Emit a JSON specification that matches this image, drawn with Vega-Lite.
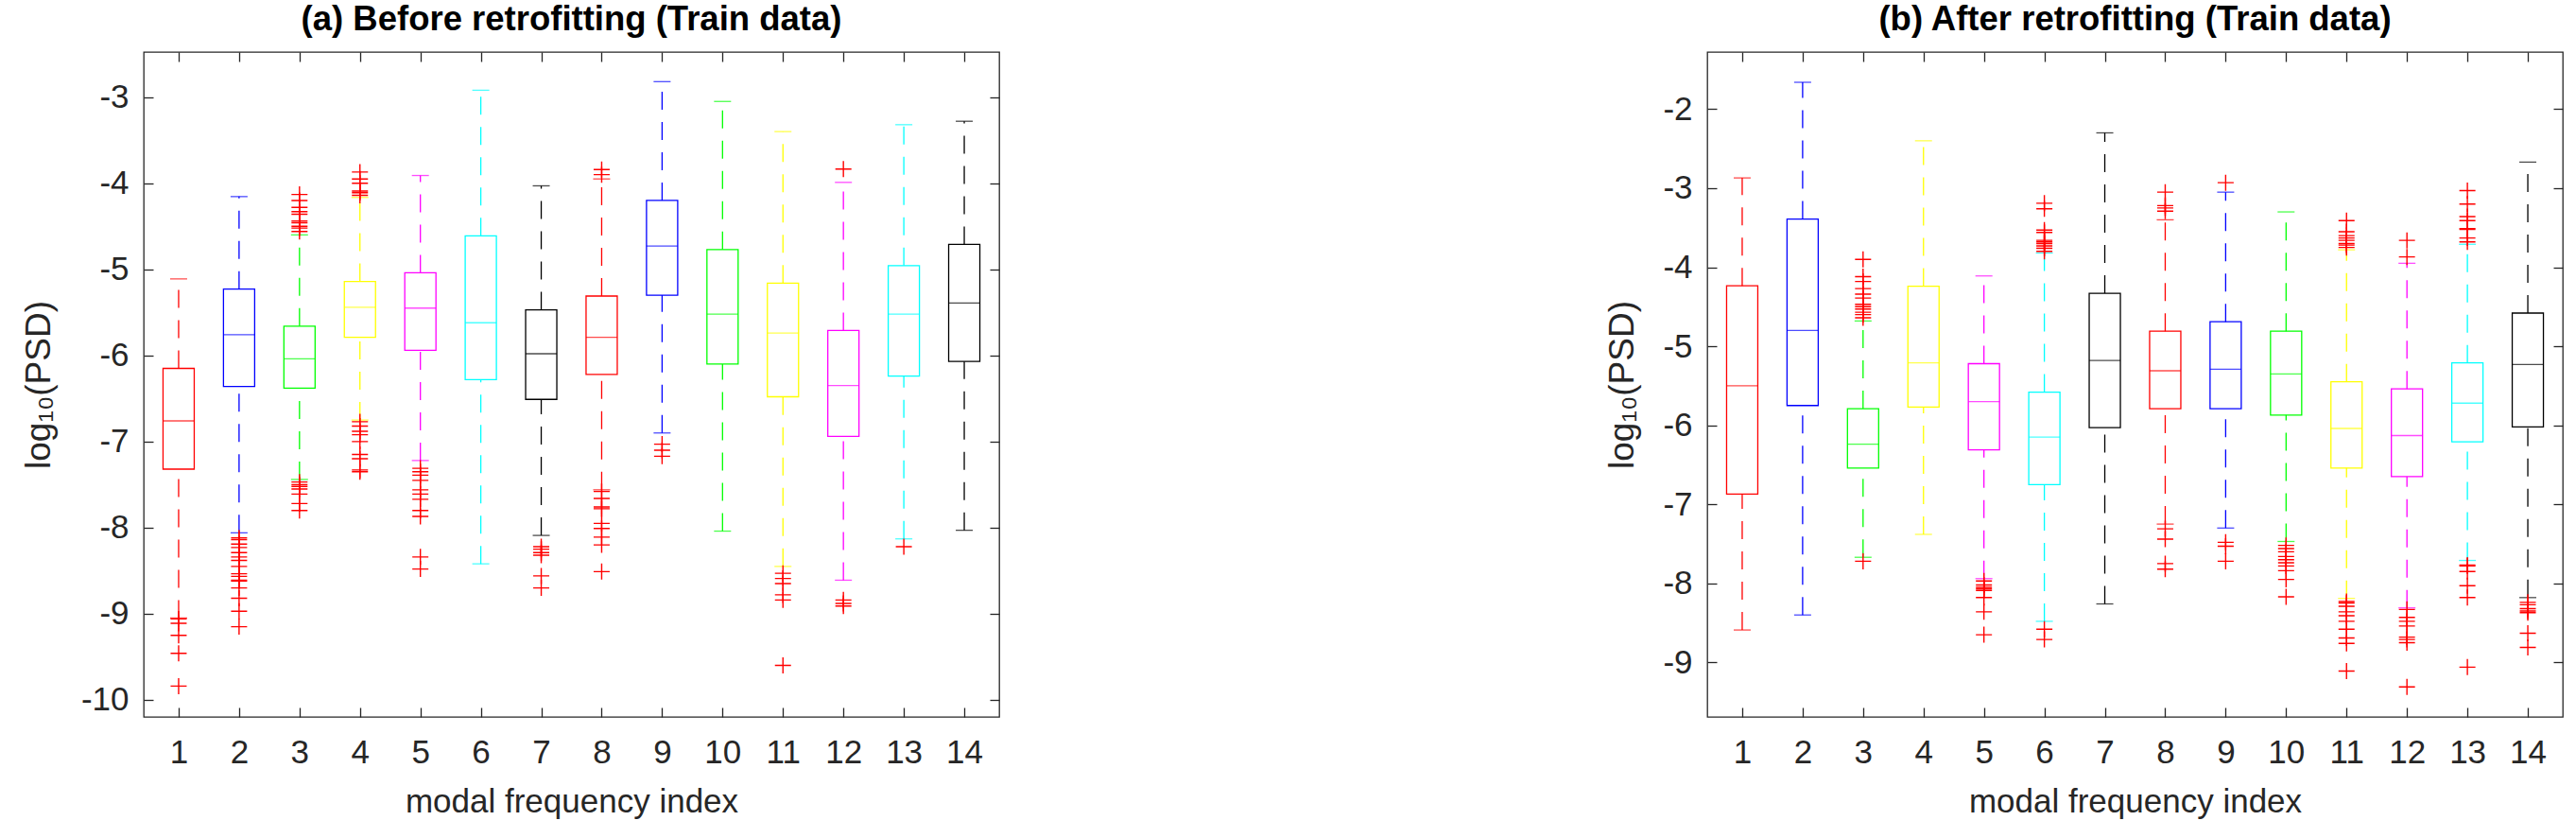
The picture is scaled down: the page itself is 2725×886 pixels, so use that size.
{
  "$schema": "https://vega.github.io/schema/vega-lite/v6.json",
  "background": "white",
  "padding": {"left": 21, "top": 2, "right": 0, "bottom": 0},
  "bounds": "flush",
  "spacing": 749,
  "config": {
    "view": {"stroke": "#262626", "strokeWidth": 1.3},
    "axis": {"labelFont": "Liberation Sans", "labelFontSize": 35, "labelColor": "#262626", "tickColor": "#262626", "tickWidth": 1.3, "domain": false, "grid": false, "titleFont": "Liberation Sans", "titleFontSize": 35, "titleFontWeight": "normal", "titleColor": "#262626"},
    "title": {"font": "Liberation Sans", "fontSize": 36.5, "fontWeight": "bold", "color": "#000000", "frame": "group", "baseline": "alphabetic", "offset": 15, "anchor": "middle"}
  },
  "datasets": {
    "boxA": [
      {"i": 1, "lo": -9.05, "q1": -7.32, "med": -6.76, "q3": -6.15, "hi": -5.11},
      {"i": 2, "lo": -8.06, "q1": -6.36, "med": -5.76, "q3": -5.23, "hi": -4.155},
      {"i": 3, "lo": -7.44, "q1": -6.38, "med": -6.04, "q3": -5.66, "hi": -4.6},
      {"i": 4, "lo": -6.75, "q1": -5.79, "med": -5.44, "q3": -5.14, "hi": -4.165},
      {"i": 5, "lo": -7.22, "q1": -5.94, "med": -5.45, "q3": -5.04, "hi": -3.91},
      {"i": 6, "lo": -8.42, "q1": -6.28, "med": -5.62, "q3": -4.61, "hi": -2.92},
      {"i": 7, "lo": -8.09, "q1": -6.51, "med": -5.98, "q3": -5.47, "hi": -4.03},
      {"i": 8, "lo": -7.56, "q1": -6.22, "med": -5.79, "q3": -5.31, "hi": -3.95},
      {"i": 9, "lo": -6.9, "q1": -5.3, "med": -4.73, "q3": -4.2, "hi": -2.82},
      {"i": 10, "lo": -8.04, "q1": -6.1, "med": -5.52, "q3": -4.77, "hi": -3.05},
      {"i": 11, "lo": -8.45, "q1": -6.48, "med": -5.74, "q3": -5.16, "hi": -3.4},
      {"i": 12, "lo": -8.61, "q1": -6.94, "med": -6.35, "q3": -5.71, "hi": -3.99},
      {"i": 13, "lo": -8.13, "q1": -6.24, "med": -5.52, "q3": -4.956, "hi": -3.32},
      {"i": 14, "lo": -8.03, "q1": -6.07, "med": -5.39, "q3": -4.71, "hi": -3.28}
    ],
    "outA": [
      {"i": 1, "v": -9.06}, {"i": 1, "v": -9.11}, {"i": 1, "v": -9.25}, {"i": 1, "v": -9.46}, {"i": 1, "v": -9.84},
      {"i": 2, "v": -8.12}, {"i": 2, "v": -8.14}, {"i": 2, "v": -8.19}, {"i": 2, "v": -8.23}, {"i": 2, "v": -8.29}, {"i": 2, "v": -8.34}, {"i": 2, "v": -8.38}, {"i": 2, "v": -8.45}, {"i": 2, "v": -8.535}, {"i": 2, "v": -8.565}, {"i": 2, "v": -8.61}, {"i": 2, "v": -8.62}, {"i": 2, "v": -8.7}, {"i": 2, "v": -8.82}, {"i": 2, "v": -8.97}, {"i": 2, "v": -9.15},
      {"i": 3, "v": -4.13}, {"i": 3, "v": -4.2}, {"i": 3, "v": -4.28}, {"i": 3, "v": -4.33}, {"i": 3, "v": -4.36}, {"i": 3, "v": -4.44}, {"i": 3, "v": -4.46}, {"i": 3, "v": -4.5}, {"i": 3, "v": -4.52}, {"i": 3, "v": -4.56},
      {"i": 3, "v": -7.47}, {"i": 3, "v": -7.5}, {"i": 3, "v": -7.52}, {"i": 3, "v": -7.55}, {"i": 3, "v": -7.61}, {"i": 3, "v": -7.72}, {"i": 3, "v": -7.8},
      {"i": 4, "v": -3.87}, {"i": 4, "v": -3.95}, {"i": 4, "v": -4.0}, {"i": 4, "v": -4.09}, {"i": 4, "v": -4.11}, {"i": 4, "v": -4.14},
      {"i": 4, "v": -6.77}, {"i": 4, "v": -6.82}, {"i": 4, "v": -6.88}, {"i": 4, "v": -6.92}, {"i": 4, "v": -7.0}, {"i": 4, "v": -7.15}, {"i": 4, "v": -7.2}, {"i": 4, "v": -7.33}, {"i": 4, "v": -7.35},
      {"i": 5, "v": -7.31}, {"i": 5, "v": -7.35}, {"i": 5, "v": -7.39}, {"i": 5, "v": -7.45}, {"i": 5, "v": -7.56}, {"i": 5, "v": -7.61}, {"i": 5, "v": -7.67}, {"i": 5, "v": -7.8}, {"i": 5, "v": -7.87}, {"i": 5, "v": -8.34}, {"i": 5, "v": -8.48},
      {"i": 7, "v": -8.22}, {"i": 7, "v": -8.25}, {"i": 7, "v": -8.29}, {"i": 7, "v": -8.32}, {"i": 7, "v": -8.56}, {"i": 7, "v": -8.7},
      {"i": 8, "v": -3.84}, {"i": 8, "v": -3.9},
      {"i": 8, "v": -7.58}, {"i": 8, "v": -7.66}, {"i": 8, "v": -7.76}, {"i": 8, "v": -7.78}, {"i": 8, "v": -7.95}, {"i": 8, "v": -8.01}, {"i": 8, "v": -8.11}, {"i": 8, "v": -8.2}, {"i": 8, "v": -8.51},
      {"i": 9, "v": -7.03}, {"i": 9, "v": -7.1}, {"i": 9, "v": -7.17},
      {"i": 11, "v": -8.53}, {"i": 11, "v": -8.59}, {"i": 11, "v": -8.65}, {"i": 11, "v": -8.78}, {"i": 11, "v": -8.84}, {"i": 11, "v": -9.6},
      {"i": 12, "v": -3.835}, {"i": 12, "v": -8.84}, {"i": 12, "v": -8.88}, {"i": 12, "v": -8.91},
      {"i": 13, "v": -8.22}
    ],
    "boxB": [
      {"i": 1, "lo": -8.59, "q1": -6.87, "med": -5.5, "q3": -4.235, "hi": -2.87},
      {"i": 2, "lo": -8.4, "q1": -5.75, "med": -4.8, "q3": -3.39, "hi": -1.66},
      {"i": 3, "lo": -7.67, "q1": -6.54, "med": -6.24, "q3": -5.79, "hi": -4.68},
      {"i": 4, "lo": -7.38, "q1": -5.77, "med": -5.21, "q3": -4.24, "hi": -2.4},
      {"i": 5, "lo": -7.94, "q1": -6.31, "med": -5.7, "q3": -5.22, "hi": -4.11},
      {"i": 6, "lo": -8.48, "q1": -6.75, "med": -6.15, "q3": -5.58, "hi": -3.82},
      {"i": 7, "lo": -8.26, "q1": -6.03, "med": -5.18, "q3": -4.33, "hi": -2.3},
      {"i": 8, "lo": -7.25, "q1": -5.79, "med": -5.31, "q3": -4.81, "hi": -3.4},
      {"i": 9, "lo": -7.3, "q1": -5.79, "med": -5.29, "q3": -4.69, "hi": -3.05},
      {"i": 10, "lo": -7.47, "q1": -5.87, "med": -5.35, "q3": -4.81, "hi": -3.3},
      {"i": 11, "lo": -8.19, "q1": -6.54, "med": -6.04, "q3": -5.45, "hi": -3.78},
      {"i": 12, "lo": -8.31, "q1": -6.65, "med": -6.13, "q3": -5.54, "hi": -3.95},
      {"i": 13, "lo": -7.71, "q1": -6.21, "med": -5.72, "q3": -5.21, "hi": -3.71},
      {"i": 14, "lo": -8.18, "q1": -6.02, "med": -5.23, "q3": -4.58, "hi": -2.67}
    ],
    "outB": [
      {"i": 3, "v": -3.9}, {"i": 3, "v": -4.12}, {"i": 3, "v": -4.18}, {"i": 3, "v": -4.27}, {"i": 3, "v": -4.34}, {"i": 3, "v": -4.39}, {"i": 3, "v": -4.47}, {"i": 3, "v": -4.5}, {"i": 3, "v": -4.53}, {"i": 3, "v": -4.57}, {"i": 3, "v": -4.6}, {"i": 3, "v": -4.64}, {"i": 3, "v": -7.72},
      {"i": 5, "v": -7.97}, {"i": 5, "v": -8.02}, {"i": 5, "v": -8.05}, {"i": 5, "v": -8.07}, {"i": 5, "v": -8.09}, {"i": 5, "v": -8.18}, {"i": 5, "v": -8.36}, {"i": 5, "v": -8.65},
      {"i": 6, "v": -3.19}, {"i": 6, "v": -3.26}, {"i": 6, "v": -3.53}, {"i": 6, "v": -3.56}, {"i": 6, "v": -3.66}, {"i": 6, "v": -3.68}, {"i": 6, "v": -3.7}, {"i": 6, "v": -3.73}, {"i": 6, "v": -3.76}, {"i": 6, "v": -3.8}, {"i": 6, "v": -8.58}, {"i": 6, "v": -8.71},
      {"i": 8, "v": -3.05}, {"i": 8, "v": -3.22}, {"i": 8, "v": -3.25}, {"i": 8, "v": -3.29}, {"i": 8, "v": -7.31}, {"i": 8, "v": -7.44}, {"i": 8, "v": -7.75}, {"i": 8, "v": -7.82},
      {"i": 9, "v": -2.93}, {"i": 9, "v": -7.48}, {"i": 9, "v": -7.53}, {"i": 9, "v": -7.72},
      {"i": 10, "v": -7.52}, {"i": 10, "v": -7.56}, {"i": 10, "v": -7.6}, {"i": 10, "v": -7.66}, {"i": 10, "v": -7.7}, {"i": 10, "v": -7.74}, {"i": 10, "v": -7.78}, {"i": 10, "v": -7.84}, {"i": 10, "v": -7.95}, {"i": 10, "v": -8.17},
      {"i": 11, "v": -3.41}, {"i": 11, "v": -3.55}, {"i": 11, "v": -3.6}, {"i": 11, "v": -3.63}, {"i": 11, "v": -3.66}, {"i": 11, "v": -3.7}, {"i": 11, "v": -3.72}, {"i": 11, "v": -3.75},
      {"i": 11, "v": -8.23}, {"i": 11, "v": -8.25}, {"i": 11, "v": -8.29}, {"i": 11, "v": -8.36}, {"i": 11, "v": -8.41}, {"i": 11, "v": -8.48}, {"i": 11, "v": -8.58}, {"i": 11, "v": -8.69}, {"i": 11, "v": -8.76}, {"i": 11, "v": -9.11},
      {"i": 12, "v": -3.66}, {"i": 12, "v": -3.87}, {"i": 12, "v": -8.33}, {"i": 12, "v": -8.43}, {"i": 12, "v": -8.48}, {"i": 12, "v": -8.54}, {"i": 12, "v": -8.68}, {"i": 12, "v": -8.71}, {"i": 12, "v": -8.75}, {"i": 12, "v": -9.31},
      {"i": 13, "v": -3.03}, {"i": 13, "v": -3.2}, {"i": 13, "v": -3.36}, {"i": 13, "v": -3.41}, {"i": 13, "v": -3.51}, {"i": 13, "v": -3.52}, {"i": 13, "v": -3.63}, {"i": 13, "v": -3.68},
      {"i": 13, "v": -7.77}, {"i": 13, "v": -7.78}, {"i": 13, "v": -7.85}, {"i": 13, "v": -8.03}, {"i": 13, "v": -8.18}, {"i": 13, "v": -9.06},
      {"i": 14, "v": -8.24}, {"i": 14, "v": -8.27}, {"i": 14, "v": -8.32}, {"i": 14, "v": -8.35}, {"i": 14, "v": -8.37}, {"i": 14, "v": -8.63}, {"i": 14, "v": -8.81}
    ]
  },
  "hconcat": [
    {
      "width": 905,
      "height": 703,
      "title": {"text": "(a) Before retrofitting (Train data)"},
      "layer": [
        {
          "data": {"name": "boxA"},
          "mark": {"type": "rule", "strokeDash": [19, 13], "strokeWidth": 1.3},
          "encoding": {
            "x": {"field": "i", "type": "quantitative", "scale": {"domain": [0.5, 14.5], "nice": false, "zero": false},
                  "axis": {"orient": "bottom", "values": [1,2,3,4,5,6,7,8,9,10,11,12,13,14], "format": "d", "tickSize": -10, "labelPadding": 30, "title": "modal frequency index", "titleY": 100, "titleBaseline": "alphabetic"}},
            "y": {"field": "lo", "type": "quantitative", "scale": {"domain": [-10.198, -2.476], "nice": false, "zero": false},
                  "axis": {"orient": "left", "values": [-10,-9,-8,-7,-6,-5,-4,-3], "labelExpr": "'' + datum.value", "tickSize": -10, "labelPadding": 26, "title": "log₁₀(PSD)", "titleX": -100, "titleY": 351.5, "titleAngle": -90, "titleBaseline": "alphabetic", "titleFontSize": 37}},
            "y2": {"field": "q1"},
            "color": {"field": "i", "type": "nominal", "scale": {"domain": [1,2,3,4,5,6,7,8,9,10,11,12,13,14], "range": ["#ff0000","#0000ff","#00ff00","#ffff00","#ff00ff","#00ffff","#000000","#ff0000","#0000ff","#00ff00","#ffff00","#ff00ff","#00ffff","#000000"]}, "legend": null}
          }
        },
        {
          "data": {"name": "boxA"},
          "mark": {"type": "rule", "strokeDash": [19, 13], "strokeWidth": 1.3},
          "encoding": {
            "x": {"field": "i", "type": "quantitative", "axis": null},
            "y": {"field": "q3", "type": "quantitative", "axis": null},
            "y2": {"field": "hi"},
            "color": {"field": "i", "type": "nominal", "legend": null}
          }
        },
        {
          "data": {"name": "boxA"},
          "mark": {"type": "tick", "orient": "horizontal", "size": 18, "thickness": 1.3},
          "encoding": {
            "x": {"field": "i", "type": "quantitative", "axis": null},
            "y": {"field": "lo", "type": "quantitative", "axis": null},
            "color": {"field": "i", "type": "nominal", "legend": null}
          }
        },
        {
          "data": {"name": "boxA"},
          "mark": {"type": "tick", "orient": "horizontal", "size": 18, "thickness": 1.3},
          "encoding": {
            "x": {"field": "i", "type": "quantitative", "axis": null},
            "y": {"field": "hi", "type": "quantitative", "axis": null},
            "color": {"field": "i", "type": "nominal", "legend": null}
          }
        },
        {
          "data": {"name": "boxA"},
          "mark": {"type": "bar", "filled": false, "size": 33, "strokeWidth": 1.3},
          "encoding": {
            "x": {"field": "i", "type": "quantitative", "axis": null},
            "y": {"field": "q1", "type": "quantitative", "axis": null},
            "y2": {"field": "q3"},
            "color": {"field": "i", "type": "nominal", "legend": null}
          }
        },
        {
          "data": {"name": "boxA"},
          "mark": {"type": "tick", "orient": "horizontal", "size": 33, "thickness": 1.3},
          "encoding": {
            "x": {"field": "i", "type": "quantitative", "axis": null},
            "y": {"field": "med", "type": "quantitative", "axis": null},
            "color": {"field": "i", "type": "nominal", "legend": null}
          }
        },
        {
          "data": {"name": "outA"},
          "mark": {"type": "point", "shape": "M-1,0H1M0,-1V1", "size": 289, "filled": false, "strokeWidth": 1.4, "color": "#ff0000", "opacity": 1},
          "encoding": {
            "x": {"field": "i", "type": "quantitative", "axis": null},
            "y": {"field": "v", "type": "quantitative", "axis": null}
          }
        },
        {
          "data": {"name": "boxA"},
          "mark": {"type": "tick", "opacity": 0},
          "encoding": {
            "x": {"field": "i", "type": "quantitative", "axis": {"orient": "top", "values": [1,2,3,4,5,6,7,8,9,10,11,12,13,14], "tickSize": -10, "labels": false, "title": null}},
            "y": {"field": "med", "type": "quantitative", "axis": {"orient": "right", "values": [-10,-9,-8,-7,-6,-5,-4,-3], "tickSize": -10, "labels": false, "title": null}}
          }
        }
      ],
      "resolve": {"axis": {"x": "independent", "y": "independent"}}
    },
    {
      "width": 905,
      "height": 703,
      "title": {"text": "(b) After retrofitting (Train data)"},
      "layer": [
        {
          "data": {"name": "boxB"},
          "mark": {"type": "rule", "strokeDash": [19, 13], "strokeWidth": 1.3},
          "encoding": {
            "x": {"field": "i", "type": "quantitative", "scale": {"domain": [0.5, 14.5], "nice": false, "zero": false},
                  "axis": {"orient": "bottom", "values": [1,2,3,4,5,6,7,8,9,10,11,12,13,14], "format": "d", "tickSize": -10, "labelPadding": 30, "title": "modal frequency index", "titleY": 100, "titleBaseline": "alphabetic"}},
            "y": {"field": "lo", "type": "quantitative", "scale": {"domain": [-9.69, -1.277], "nice": false, "zero": false},
                  "axis": {"orient": "left", "values": [-9,-8,-7,-6,-5,-4,-3,-2], "labelExpr": "'' + datum.value", "tickSize": -10, "labelPadding": 26, "title": "log₁₀(PSD)", "titleX": -79, "titleY": 351.5, "titleAngle": -90, "titleBaseline": "alphabetic", "titleFontSize": 37}},
            "y2": {"field": "q1"},
            "color": {"field": "i", "type": "nominal", "scale": {"domain": [1,2,3,4,5,6,7,8,9,10,11,12,13,14], "range": ["#ff0000","#0000ff","#00ff00","#ffff00","#ff00ff","#00ffff","#000000","#ff0000","#0000ff","#00ff00","#ffff00","#ff00ff","#00ffff","#000000"]}, "legend": null}
          }
        },
        {
          "data": {"name": "boxB"},
          "mark": {"type": "rule", "strokeDash": [19, 13], "strokeWidth": 1.3},
          "encoding": {
            "x": {"field": "i", "type": "quantitative", "axis": null},
            "y": {"field": "q3", "type": "quantitative", "axis": null},
            "y2": {"field": "hi"},
            "color": {"field": "i", "type": "nominal", "legend": null}
          }
        },
        {
          "data": {"name": "boxB"},
          "mark": {"type": "tick", "orient": "horizontal", "size": 18, "thickness": 1.3},
          "encoding": {
            "x": {"field": "i", "type": "quantitative", "axis": null},
            "y": {"field": "lo", "type": "quantitative", "axis": null},
            "color": {"field": "i", "type": "nominal", "legend": null}
          }
        },
        {
          "data": {"name": "boxB"},
          "mark": {"type": "tick", "orient": "horizontal", "size": 18, "thickness": 1.3},
          "encoding": {
            "x": {"field": "i", "type": "quantitative", "axis": null},
            "y": {"field": "hi", "type": "quantitative", "axis": null},
            "color": {"field": "i", "type": "nominal", "legend": null}
          }
        },
        {
          "data": {"name": "boxB"},
          "mark": {"type": "bar", "filled": false, "size": 33, "strokeWidth": 1.3},
          "encoding": {
            "x": {"field": "i", "type": "quantitative", "axis": null},
            "y": {"field": "q1", "type": "quantitative", "axis": null},
            "y2": {"field": "q3"},
            "color": {"field": "i", "type": "nominal", "legend": null}
          }
        },
        {
          "data": {"name": "boxB"},
          "mark": {"type": "tick", "orient": "horizontal", "size": 33, "thickness": 1.3},
          "encoding": {
            "x": {"field": "i", "type": "quantitative", "axis": null},
            "y": {"field": "med", "type": "quantitative", "axis": null},
            "color": {"field": "i", "type": "nominal", "legend": null}
          }
        },
        {
          "data": {"name": "outB"},
          "mark": {"type": "point", "shape": "M-1,0H1M0,-1V1", "size": 289, "filled": false, "strokeWidth": 1.4, "color": "#ff0000", "opacity": 1},
          "encoding": {
            "x": {"field": "i", "type": "quantitative", "axis": null},
            "y": {"field": "v", "type": "quantitative", "axis": null}
          }
        },
        {
          "data": {"name": "boxB"},
          "mark": {"type": "tick", "opacity": 0},
          "encoding": {
            "x": {"field": "i", "type": "quantitative", "axis": {"orient": "top", "values": [1,2,3,4,5,6,7,8,9,10,11,12,13,14], "tickSize": -10, "labels": false, "title": null}},
            "y": {"field": "med", "type": "quantitative", "axis": {"orient": "right", "values": [-9,-8,-7,-6,-5,-4,-3,-2], "tickSize": -10, "labels": false, "title": null}}
          }
        }
      ],
      "resolve": {"axis": {"x": "independent", "y": "independent"}}
    }
  ]
}
